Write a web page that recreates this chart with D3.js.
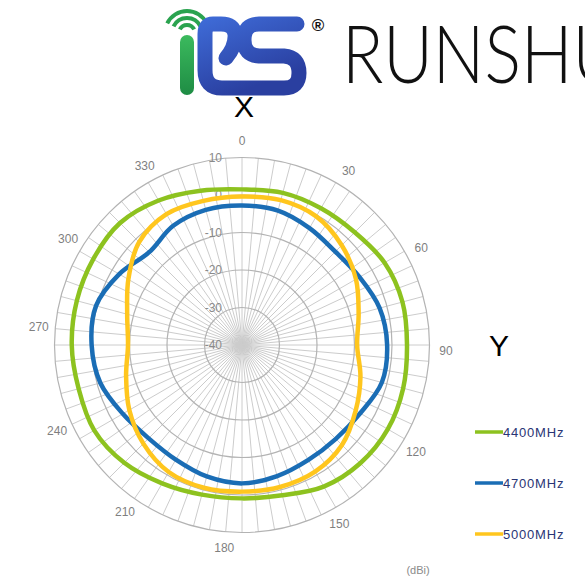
<!DOCTYPE html>
<html>
<head>
<meta charset="utf-8">
<script src="https://cdnjs.cloudflare.com/ajax/libs/d3/7.8.5/d3.min.js"></script>
<style>
  body { margin: 0; background: #fff; }
  svg { display: block; font-family: "Liberation Sans", Arial, sans-serif; }
</style>
</head>
<body>
<svg id="chart" width="585" height="580"></svg>
<script>
// measurement angles (degrees, clockwise from X)
const angles = [0, 15, 30, 45, 60, 75, 90, 105, 120, 135, 150, 165,
                180, 195, 210, 225, 240, 255, 270, 285, 300, 315, 330, 345];

// gain in dBi
const gain4400 = [1.5, 2.0, 2.1, 2.5, 3.9, 4.3, 4.0, 4.5, 4.9, 4.6, 3.6, 1.5,
                  0.9, 1.3, 2.6, 4.4, 5.5, 5.1, 5.4, 5.6, 5.8, 6.0, 4.5, 2.6];
const gain4700 = [-2.8, -2.9, -4.0, -4.8, -3.8, -2.0, -1.3, -1.4, -3.6, -4.6, -4.6, -3.8,
                  -3.1, -3.7, -4.7, -4.8, -3.3, -0.9, 0.1, 0.3, -2.2, -5.0, -3.3, -2.7];
const gain5000 = [-0.4, 0.0, -0.4, -2.4, -4.9, -7.8, -9.3, -7.3, -5.0, -2.3, -1.0, -0.8,
                  -0.9, -0.6, -0.9, -2.8, -5.3, -8.0, -9.6, -8.3, -5.0, -1.2, 0.3, -0.2];

const seriesNames = ["4400MHz", "4700MHz", "5000MHz"];
const seriesColors = ["#8dc21f", "#1a6db5", "#ffc61e"];
const ringTicks = [10, 0, -10, -20, -30, -40];
const angleTicks = [0, 30, 60, 90, 120, 150, 180, 210, 240, 270, 300, 330];

const svg = d3.select("#chart");
const cx = 242, cy = 345;
const rad = d => d * Math.PI / 180;

const r = d3.scaleLinear().domain([-40, 10]).range([0, 187.5]);

const g = svg.append("g").attr("transform", `translate(${cx},${cy})`);

// spokes every 5 degrees
g.append("g").selectAll("line")
  .data(d3.range(0, 360, 5))
  .join("line")
  .attr("x1", 0).attr("y1", 0)
  .attr("x2", d => r(10) * Math.sin(rad(d)))
  .attr("y2", d => -r(10) * Math.cos(rad(d)))
  .attr("stroke", "#cccccc")
  .attr("stroke-width", 1);

// rings
g.append("g").selectAll("circle")
  .data(ringTicks.filter(d => d > -40))
  .join("circle")
  .attr("r", d => r(d))
  .attr("fill", "none")
  .attr("stroke", "#b3b3b3")
  .attr("stroke-width", 1.2);

// ring labels
g.append("g").selectAll("text")
  .data(ringTicks)
  .join("text")
  .attr("x", -20)
  .attr("y", d => -r(d))
  .attr("dy", "0.35em")
  .attr("text-anchor", "end")
  .attr("font-size", 12)
  .attr("fill", "#8a8a8a")
  .text(d => d);

// angle labels
const labelAngle = d => d === 0 ? 0 : (d >= 180 && d <= 270 ? d + 5 : d + 1.5);
g.append("g").selectAll("text")
  .data(angleTicks)
  .join("text")
  .attr("x", d => 204 * Math.sin(rad(labelAngle(d))))
  .attr("y", d => -204 * Math.cos(rad(labelAngle(d))))
  .attr("dy", "0.35em")
  .attr("text-anchor", "middle")
  .attr("font-size", 12)
  .attr("fill", "#7f7f7f")
  .text(d => d);

// series
const line = d3.lineRadial()
  .angle(d => rad(d[0]))
  .radius(d => r(d[1]))
  .curve(d3.curveCatmullRomClosed.alpha(0.5));

[gain4400, gain4700, gain5000].forEach((vals, i) => {
  g.append("path")
    .datum(angles.map((a, k) => [a, vals[k]]))
    .attr("fill", "none")
    .attr("stroke", seriesColors[i])
    .attr("stroke-width", 4.5)
    .attr("d", line);
});

// legend
const legend = svg.append("g").attr("transform", "translate(475,432)");
seriesNames.forEach((name, i) => {
  const row = legend.append("g").attr("transform", `translate(0,${i * 51})`);
  row.append("line")
    .attr("x1", 0).attr("x2", 28)
    .attr("stroke", seriesColors[i])
    .attr("stroke-width", 3.5);
  row.append("text")
    .attr("x", 28)
    .attr("dy", "0.36em")
    .attr("font-size", 13)
    .attr("letter-spacing", 0.8)
    .attr("fill", "#2a3575")
    .text(name);
});

svg.append("text")
  .attr("x", 418).attr("y", 574)
  .attr("text-anchor", "middle")
  .attr("font-size", 11)
  .attr("fill", "#8a8a8a")
  .text("(dBi)");

// axis letters
svg.append("text")
  .attr("x", 244).attr("y", 117)
  .attr("text-anchor", "middle")
  .attr("font-size", 30)
  .attr("fill", "#000")
  .text("X");
svg.append("text")
  .attr("x", 499).attr("y", 356)
  .attr("text-anchor", "middle")
  .attr("font-size", 30)
  .attr("fill", "#000")
  .text("Y");

// logo
const defs = svg.append("defs");
const gb = defs.append("linearGradient").attr("id", "blueGrad")
  .attr("gradientUnits", "userSpaceOnUse")
  .attr("x1", 200).attr("y1", 18).attr("x2", 230).attr("y2", 96);
gb.append("stop").attr("offset", 0).attr("stop-color", "#3f6cd8");
gb.append("stop").attr("offset", 1).attr("stop-color", "#2a3fa0");
const gg = defs.append("linearGradient").attr("id", "greenGrad")
  .attr("gradientUnits", "userSpaceOnUse")
  .attr("x1", 0).attr("y1", 34).attr("x2", 0).attr("y2", 95);
gg.append("stop").attr("offset", 0).attr("stop-color", "#3cbb5e");
gg.append("stop").attr("offset", 1).attr("stop-color", "#1e8c44");

const logo = svg.append("g");
// antenna waves
const arc = d3.arc();
[[6, 10], [13, 17], [20, 24]].forEach(([ir, or]) => {
  logo.append("path")
    .attr("transform", "translate(187,33)")
    .attr("d", arc({ innerRadius: ir, outerRadius: or, startAngle: rad(-64), endAngle: rad(64), cornerRadius: 2 }))
    .attr("fill", "#2aa34f");
});
logo.append("rect")
  .attr("x", 180).attr("y", 35).attr("width", 14).attr("height", 60)
  .attr("rx", 7)
  .attr("fill", "url(#greenGrad)");
// R and S shapes
logo.append("path")
  .attr("d", "M226 58 Q236 46 235 34 Q233 24 221 24 L213 24 Q205 24 205 34 L205 70 Q205 88 222 88 L284 88 Q299 88 299 73 Q299 57 284 56 L259 56 Q244 55 244 40 Q244 24 259 24 L297 24")
  .attr("fill", "none")
  .attr("stroke", "url(#blueGrad)")
  .attr("stroke-width", 15)
  .attr("stroke-linecap", "round")
  .attr("stroke-linejoin", "round");
logo.append("text")
  .attr("x", 318).attr("y", 31)
  .attr("text-anchor", "middle")
  .attr("font-size", 17)
  .attr("font-weight", "bold")
  .attr("fill", "#111")
  .text("®");
logo.append("text")
  .attr("x", 342).attr("y", 83)
  .attr("font-family", "Lato, 'Open Sans', sans-serif")
  .attr("font-weight", 300)
  .attr("font-size", 80)
  .attr("textLength", 280)
  .attr("lengthAdjust", "spacingAndGlyphs")
  .attr("fill", "#111")
  .text("RUNSHU");
</script>
</body>
</html>
